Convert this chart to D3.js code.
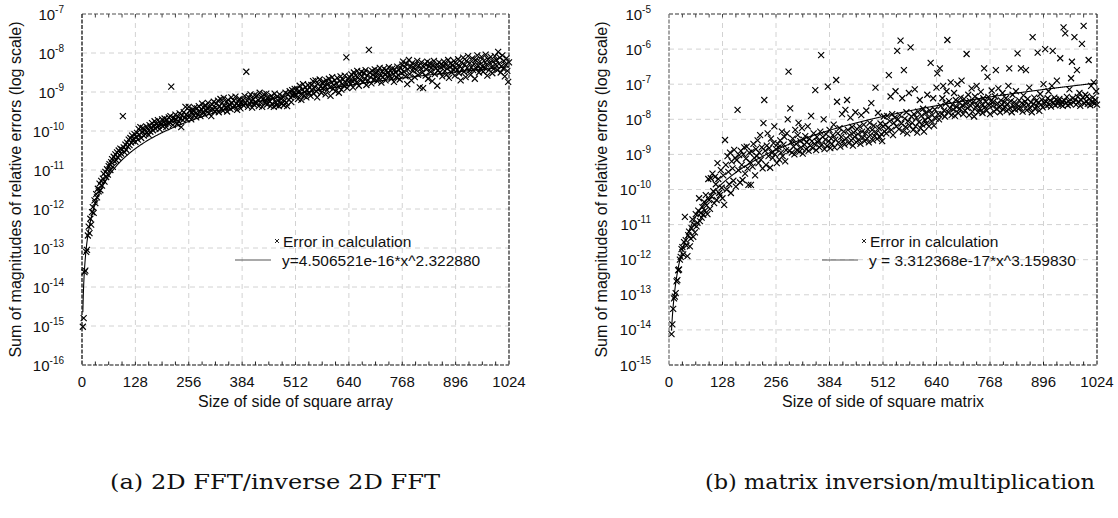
<!DOCTYPE html>
<html>
<head>
<meta charset="utf-8">
<script src="https://cdn.jsdelivr.net/npm/d3@7"></script>
<style>
  html, body { margin: 0; padding: 0; background: #fff; }
  svg { display: block; font-family: "Liberation Sans", Arial, sans-serif; }
</style>
</head>
<body>
<svg id="fig" width="1118" height="518"></svg>
<script>
// ---- data -------------------------------------------------------------
// Problem sizes run from a start value up to 1024 in steps of 2.
const sizeStep = 2;
const fftSizeStart = 2;
const matSizeStart = 6;

// Decimal exponents of the summed relative error, one per problem size.
const fftErrExp = [
  -15.02,-14.80,-13.62,-13.58,-13.10,-13.05,-12.68,-12.45,-12.62,-12.25,-12.40,-12.08,-11.95,-12.10,-11.78,-11.85,
  -11.62,-11.70,-11.48,-11.55,-11.35,-11.52,-11.28,-11.40,-11.22,-11.10,-11.30,-11.05,-11.18,-10.98,-11.12,-10.90,
  -10.85,-11.00,-10.80,-10.72,-10.92,-10.66,-10.78,-10.60,-10.75,-10.55,-10.68,-10.50,-10.62,-10.45,-10.58,-10.48,
  -9.62,-10.42,-10.55,-10.35,-10.48,-10.30,-10.40,-10.22,-10.36,-10.18,-10.30,-10.12,-10.25,-10.20,-10.08,-10.28,
  -10.15,-10.05,-10.22,-9.95,-10.10,-9.90,-10.18,-10.02,-9.92,-10.12,-9.98,-10.08,-9.88,-10.04,-9.95,-10.10,
  -9.85,-10.02,-9.92,-9.80,-9.98,-9.88,-9.75,-9.94,-9.82,-9.90,-9.72,-9.86,-9.95,-9.78,-9.84,-9.70,
  -9.88,-9.76,-9.68,-9.82,-9.90,-9.72,-9.80,-9.65,-9.78,-9.62,-8.86,-9.74,-9.85,-9.66,-9.72,-9.58,
  -9.70,-9.82,-9.64,-9.76,-9.55,-9.68,-9.90,-9.60,-9.72,-9.52,-9.66,-9.38,-9.58,-9.70,-9.62,-9.38,
  -9.48,-9.62,-9.70,-9.52,-9.45,-9.60,-9.40,-9.55,-9.65,-9.42,-9.58,-9.36,-9.50,-9.62,-9.44,-9.30,
  -9.52,-9.40,-9.58,-9.34,-9.48,-9.42,-9.28,-9.55,-9.38,-9.46,-9.62,-9.32,-9.44,-9.25,-9.50,-9.40,
  -9.30,-9.45,-9.22,-9.52,-9.36,-9.18,-9.42,-9.28,-9.48,-9.15,-9.35,-9.40,-9.26,-9.50,-9.20,-9.38,
  -9.32,-9.44,-9.14,-9.28,-9.40,-9.22,-9.36,-9.12,-9.30,-9.46,-9.24,-9.34,-9.18,-9.42,-9.26,-9.30,
  -9.20,-9.35,-9.10,-9.28,-8.48,-9.22,-9.38,-9.14,-9.30,-9.06,-9.24,-9.40,-9.18,-9.32,-9.08,-9.26,
  -9.30,-9.10,-9.20,-9.36,-9.02,-9.26,-9.14,-9.38,-9.18,-9.06,-9.28,-9.20,-9.04,-9.32,-9.14,-9.22,
  -9.24,-9.36,-9.10,-9.30,-9.16,-9.38,-9.04,-9.26,-9.34,-9.12,-9.22,-9.36,-9.06,-9.28,-9.18,-9.30,
  -9.12,-9.34,-9.22,-9.02,-9.28,-9.36,-9.06,-9.20,-8.98,-9.14,-9.26,-8.95,-9.10,-9.04,-8.92,-9.06,
  -9.08,-8.92,-9.18,-8.98,-8.84,-9.06,-9.20,-8.94,-8.80,-9.10,-9.00,-8.88,-9.14,-8.95,-8.82,-9.02,
  -8.88,-9.10,-8.82,-8.96,-8.72,-9.04,-8.86,-8.70,-8.98,-9.14,-8.80,-8.92,-8.68,-8.86,-9.02,-8.76,
  -8.90,-8.74,-8.84,-9.06,-8.70,-8.95,-8.80,-8.66,-8.88,-9.10,-8.76,-8.62,-8.92,-8.82,-8.70,-8.98,
  -8.78,-8.64,-8.86,-9.02,-8.72,-8.60,-8.94,-8.80,-8.68,-8.84,-8.58,-8.76,-8.11,-8.90,-8.66,-8.74,
  -8.62,-8.80,-8.55,-8.72,-8.88,-8.50,-8.68,-8.58,-8.76,-8.46,-8.64,-8.84,-8.54,-8.70,-8.48,-8.60,
  -8.74,-8.52,-8.66,-8.44,-8.82,-8.58,-8.70,-7.92,-8.50,-8.62,-8.78,-8.46,-8.56,-8.68,-8.42,-8.60,
  -8.52,-8.72,-8.45,-8.64,-8.38,-8.58,-8.76,-8.48,-8.62,-8.40,-8.55,-8.70,-8.44,-8.60,-8.50,-8.36,
  -8.58,-8.46,-8.66,-8.40,-8.54,-8.74,-8.42,-8.50,-8.62,-8.35,-8.56,-8.44,-8.68,-8.38,-8.52,-8.30,
  -8.22,-8.48,-8.36,-8.60,-8.28,-8.80,-8.42,-8.18,-8.54,-8.34,-8.70,-8.26,-8.46,-8.38,-8.62,-8.30,
  -8.44,-8.20,-8.56,-8.32,-8.88,-8.40,-8.24,-8.50,-8.90,-8.36,-8.28,-8.58,-8.42,-8.22,-8.66,-8.34,
  -8.26,-8.48,-8.38,-8.72,-8.30,-8.20,-8.54,-8.40,-8.32,-8.84,-8.44,-8.24,-8.50,-8.36,-8.28,-8.60,
  -8.34,-8.22,-8.46,-8.30,-8.56,-8.40,-8.18,-8.64,-8.36,-8.26,-8.50,-8.32,-8.42,-8.20,-8.58,-8.38,
  -8.28,-8.44,-8.16,-8.52,-8.34,-8.70,-8.24,-8.40,-8.12,-8.48,-8.30,-8.62,-8.20,-8.38,-8.08,-8.46,
  -8.26,-8.56,-8.36,-8.14,-8.44,-8.28,-8.66,-8.18,-8.40,-8.06,-8.32,-8.50,-8.22,-8.42,-8.10,-8.34,
  -8.48,-8.20,-8.38,-8.04,-8.30,-8.58,-8.16,-8.44,-8.26,-8.10,-8.36,-8.52,-8.22,-8.40,-8.08,-8.30,
  -8.18,-8.44,-7.97,-8.28,-8.12,-8.50,-8.34,-8.06,-8.40,-8.20,-8.60,-8.30,-8.14,-8.46,-8.74,-8.24
];

const matErrExp = [
  -14.12,-13.84,-13.40,-13.10,-13.05,-12.95,-12.62,-12.58,-12.30,-12.28,-12.00,-11.92,-11.70,-11.64,-11.85,-11.50,
  -10.78,-11.44,-11.60,-11.90,-11.30,-11.20,-11.62,-11.40,-11.10,-10.85,-11.35,-11.00,-11.22,-10.70,-11.05,-10.95,
  -10.60,-10.25,-10.90,-10.67,-10.80,-10.50,-10.72,-10.35,-10.60,-10.16,-10.45,-10.70,-9.70,-10.30,-10.55,-9.68,
  -10.20,-9.55,-10.05,-10.39,-9.64,-9.85,-10.30,-9.25,-9.70,-10.10,-10.16,-9.45,-9.95,-10.25,-9.60,-10.44,
  -8.59,-9.30,-10.00,-9.05,-9.50,-9.85,-8.95,-10.10,-9.20,-9.40,-9.75,-8.87,-9.10,-9.92,-9.16,-7.73,
  -9.45,-9.02,-9.80,-8.90,-9.30,-9.73,-9.00,-8.80,-9.55,-9.12,-8.78,-9.40,-9.87,-8.95,-9.22,-9.87,
  -8.92,-9.35,-8.70,-9.10,-9.60,-8.85,-9.05,-8.60,-9.25,-8.95,-8.45,-9.15,-8.80,-9.40,-8.11,-7.45,
  -8.90,-9.30,-8.75,-8.40,-9.05,-8.82,-9.38,-8.55,-8.95,-9.10,-8.68,-8.20,-9.00,-8.85,-9.25,-8.70,
  -8.80,-9.15,-8.60,-8.95,-8.35,-9.05,-8.72,-8.50,-9.20,-8.88,-8.40,-8.00,-6.64,-8.90,-7.69,-8.65,
  -8.95,-8.55,-8.78,-9.00,-8.30,-8.70,-8.88,-8.45,-8.10,-8.92,-8.62,-8.80,-8.25,-8.98,-8.58,-8.72,
  -8.48,-8.85,-8.65,-8.20,-8.90,-8.55,-8.75,-7.90,-8.62,-8.82,-8.40,-8.70,-7.17,-8.88,-8.50,-8.66,
  -8.60,-8.80,-8.35,-6.17,-8.72,-8.50,-8.00,-8.85,-8.58,-8.42,-8.76,-7.07,-8.62,-8.30,-8.82,-8.55,
  -8.70,-8.45,-8.15,-8.80,-8.58,-6.88,-7.50,-8.40,-8.66,-8.25,-8.78,-8.50,-7.85,-8.62,-8.35,-8.72,
  -7.73,-8.55,-7.45,-8.30,-8.68,-8.45,-7.95,-8.60,-8.22,-8.75,-8.38,-8.50,-7.80,-8.65,-8.28,-8.42,
  -8.58,-8.20,-8.70,-7.88,-8.35,-8.52,-8.15,-8.62,-8.40,-7.75,-8.55,-8.28,-8.66,-8.10,-8.45,-7.54,
  -8.30,-8.60,-8.18,-8.48,-7.10,-8.38,-8.56,-7.82,-8.25,-8.50,-8.12,-8.42,-8.62,-8.20,-7.92,-8.35,
  -8.15,-8.40,-7.90,-8.25,-6.74,-8.05,-7.35,-8.30,-7.85,-8.45,-8.10,-7.95,-7.20,-8.20,-6.05,-8.00,
  -8.28,-7.88,-5.76,-8.12,-7.40,-8.35,-6.60,-7.98,-8.22,-7.80,-8.40,-8.05,-7.25,-8.18,-5.95,-7.92,
  -8.10,-8.30,-7.85,-7.15,-8.20,-7.96,-8.38,-7.78,-8.08,-7.45,-8.25,-7.90,-8.15,-7.70,-8.35,-8.02,
  -7.82,-8.12,-7.30,-7.95,-8.20,-7.75,-6.39,-8.05,-7.88,-7.40,-8.18,-7.72,-7.98,-7.10,-6.69,-7.85,
  -8.00,-6.55,-7.62,-7.85,-7.40,-7.05,-7.75,-7.92,-7.55,-7.20,-5.74,-7.80,-7.48,-7.68,-6.95,-7.88,
  -7.58,-7.72,-7.25,-7.90,-7.45,-7.65,-7.00,-7.82,-7.52,-7.70,-7.38,-6.90,-7.60,-7.85,-7.42,-7.75,
  -7.55,-6.14,-7.68,-7.30,-7.88,-7.48,-7.62,-7.12,-7.78,-7.50,-7.92,-7.35,-7.66,-7.05,-7.58,-7.80,
  -7.45,-7.70,-7.22,-7.58,-7.82,-7.40,-6.55,-7.65,-7.50,-7.75,-6.79,-7.36,-7.60,-7.85,-7.48,-7.18,
  -7.62,-7.50,-7.78,-7.35,-6.60,-7.70,-7.55,-7.12,-7.66,-7.80,-7.46,-7.58,-7.25,-7.72,-7.52,-7.64,
  -7.40,-7.76,-7.56,-7.05,-6.55,-7.68,-7.48,-7.80,-7.30,-7.62,-7.52,-7.72,-7.20,-7.58,-6.12,-7.70,
  -7.46,-7.66,-6.55,-7.54,-7.78,-7.32,-7.60,-7.50,-6.60,-7.74,-7.42,-7.58,-7.10,-7.68,-7.52,-7.80,
  -5.66,-7.56,-7.38,-7.70,-7.48,-7.62,-6.10,-7.52,-7.76,-7.28,-7.58,-7.44,-7.66,-7.00,-7.54,-6.00,
  -7.50,-7.62,-7.40,-7.20,-7.58,-7.46,-7.64,-7.05,-6.05,-7.52,-7.38,-7.60,-7.44,-6.90,-7.56,-7.48,
  -7.42,-6.26,-7.58,-7.50,-7.62,-5.38,-7.46,-5.55,-7.54,-7.36,-7.60,-7.48,-7.15,-7.56,-6.83,-6.36,
  -7.40,-7.52,-5.66,-7.44,-7.58,-6.60,-7.36,-7.50,-7.25,-7.62,-7.45,-5.85,-7.38,-5.34,-7.55,-7.30,
  -7.48,-7.35,-7.56,-6.31,-7.42,-7.60,-7.05,-7.50,-7.38,-6.95,-7.55,-7.45,-7.20,-7.58
];

// Power-law fits y = a * x^b
const fitCoef  = [4.506521e-16, 3.312368e-17];
const fitPower = [2.322880, 3.159830];
const fitLabels = ["y=4.506521e-16*x^2.322880", "y = 3.312368e-17*x^3.159830"];

// Axis ticks
const xTicks = [0, 128, 256, 384, 512, 640, 768, 896, 1024];
const fftDecades = [-16, -15, -14, -13, -12, -11, -10, -9, -8, -7];
const matDecades = [-15, -14, -13, -12, -11, -10, -9, -8, -7, -6, -5];

const xTitles = ["Size of side of square array", "Size of side of square matrix"];
const yTitle = "Sum of magnitudes of relative errors (log scale)";
const markerLabel = "Error in calculation";
const captions = ["(a) 2D FFT/inverse 2D FFT", "(b) matrix inversion/multiplication"];

// ---- drawing ----------------------------------------------------------
const svg = d3.select("#fig");

function crossPath(s) {
  return `M${-s},${-s}L${s},${s}M${-s},${s}L${s},${-s}`;
}

function drawPanel(cfg) {
  const g = svg.append("g");
  const x = d3.scaleLinear().domain([0, 1024]).range([cfg.left, cfg.right]);
  const decades = cfg.decades;
  const y = d3.scaleLog()
    .domain([Math.pow(10, decades[0]), Math.pow(10, decades[decades.length - 1])])
    .range([cfg.bottom, cfg.top]);

  // dashed grid
  g.append("g").selectAll("line")
    .data(xTicks.slice(1, -1)).join("line")
    .attr("x1", d => x(d)).attr("x2", d => x(d))
    .attr("y1", cfg.top).attr("y2", cfg.bottom)
    .attr("stroke", "#d2d2d2").attr("stroke-width", 1)
    .attr("stroke-dasharray", "5,4");
  g.append("g").selectAll("line")
    .data(decades.slice(1, -1)).join("line")
    .attr("x1", cfg.left).attr("x2", cfg.right)
    .attr("y1", d => y(Math.pow(10, d))).attr("y2", d => y(Math.pow(10, d)))
    .attr("stroke", "#d2d2d2").attr("stroke-width", 1)
    .attr("stroke-dasharray", "5,4");

  // fitted power law
  const fitX = d3.range(cfg.start, 1024.001, 1);
  const line = d3.line()
    .x(d => x(d))
    .y(d => y(cfg.coef * Math.pow(d, cfg.power)));
  g.append("path").datum(fitX)
    .attr("d", line)
    .attr("fill", "none").attr("stroke", "#000").attr("stroke-width", 1.1);

  // measured errors
  const pts = cfg.exps.map((e, i) => ({ n: cfg.start + i * sizeStep, v: Math.pow(10, e) }));
  g.append("g").selectAll("path")
    .data(pts).join("path")
    .attr("transform", d => `translate(${x(d.n)},${y(d.v)})`)
    .attr("d", crossPath(3))
    .attr("fill", "none").attr("stroke", "#000").attr("stroke-width", 1.15);

  // frame
  const frame = g.append("g").attr("fill", "none");
  frame.append("line").attr("x1", cfg.left).attr("x2", cfg.right).attr("y1", cfg.top).attr("y2", cfg.top)
    .attr("stroke", cfg.topColor).attr("stroke-width", 1.3).attr("stroke-dasharray", "4,2");
  frame.append("line").attr("x1", cfg.left).attr("x2", cfg.left).attr("y1", cfg.top).attr("y2", cfg.bottom)
    .attr("stroke", cfg.leftColor).attr("stroke-width", 1.3).attr("stroke-dasharray", "4,1.5");
  frame.append("line").attr("x1", cfg.right).attr("x2", cfg.right).attr("y1", cfg.top).attr("y2", cfg.bottom)
    .attr("stroke", "#222").attr("stroke-width", 1.2).attr("stroke-dasharray", "4,1.5");
  frame.append("line").attr("x1", cfg.left).attr("x2", cfg.right).attr("y1", cfg.bottom).attr("y2", cfg.bottom)
    .attr("stroke", "#111").attr("stroke-width", 1.2).attr("stroke-dasharray", "4,1.5");

  // minor ticks every 32 along top and bottom, pointing inward
  const minor = d3.range(32, 1024, 32);
  g.append("g").selectAll("line")
    .data(minor).join("line")
    .attr("x1", d => x(d)).attr("x2", d => x(d))
    .attr("y1", cfg.bottom).attr("y2", cfg.bottom - 3.5)
    .attr("stroke", "#222").attr("stroke-width", 1);
  g.append("g").selectAll("line")
    .data(minor).join("line")
    .attr("x1", d => x(d)).attr("x2", d => x(d))
    .attr("y1", cfg.top).attr("y2", cfg.top + 3.5)
    .attr("stroke", "#444").attr("stroke-width", 1);

  // x tick labels
  g.append("g").selectAll("text")
    .data(xTicks).join("text")
    .attr("x", d => x(d)).attr("y", cfg.bottom + 22)
    .attr("text-anchor", "middle")
    .attr("font-size", 15).attr("fill", "#111")
    .text(d => d);

  // y tick labels: 10 with a raised exponent
  const yl = g.append("g").selectAll("text")
    .data(decades).join("text")
    .attr("x", cfg.left - 18).attr("y", d => y(Math.pow(10, d)) + 5.5)
    .attr("text-anchor", "end")
    .attr("font-size", 15).attr("fill", "#111");
  yl.append("tspan").text("10");
  yl.append("tspan").attr("font-size", 10).attr("dy", -7).text(d => String(d));

  // axis titles
  g.append("text")
    .attr("x", (cfg.left + cfg.right) / 2).attr("y", cfg.bottom + 42)
    .attr("text-anchor", "middle").attr("font-size", 16).attr("fill", "#111")
    .text(cfg.xTitle);
  g.append("text")
    .attr("transform", `translate(${cfg.yTitleX},${(cfg.top + cfg.bottom) / 2}) rotate(-90)`)
    .attr("text-anchor", "middle").attr("font-size", 16).attr("fill", "#111")
    .text(yTitle);

  // legend
  const lx = cfg.left + 153;
  g.append("path")
    .attr("transform", `translate(${lx + 42},${241})`)
    .attr("d", crossPath(2))
    .attr("fill", "none").attr("stroke", "#222").attr("stroke-width", 1);
  g.append("text")
    .attr("x", lx + 48).attr("y", 246.5)
    .attr("font-size", 15.5).attr("fill", "#111")
    .text(markerLabel);
  g.append("line")
    .attr("x1", lx).attr("x2", lx + 36).attr("y1", 260).attr("y2", 260)
    .attr("stroke", "#555").attr("stroke-width", 1.2);
  g.append("text")
    .attr("x", lx + 47).attr("y", 265.5)
    .attr("font-size", 15.5).attr("fill", "#111")
    .text(cfg.fitLabel);

  // caption
  g.append("text")
    .attr("x", cfg.captionX).attr("y", 489)
    .attr("text-anchor", "middle")
    .attr("font-family", "'DejaVu Serif', 'Liberation Serif', serif")
    .attr("font-size", 21).attr("fill", "#111")
    .attr("textLength", cfg.captionWidth)
    .attr("lengthAdjust", "spacingAndGlyphs")
    .text(cfg.caption);
}

drawPanel({
  left: 82, right: 509, top: 14, bottom: 365,
  decades: fftDecades, exps: fftErrExp, start: fftSizeStart,
  coef: fitCoef[0], power: fitPower[0], fitLabel: fitLabels[0],
  xTitle: xTitles[0], yTitleX: 21, caption: captions[0], captionX: 275, captionWidth: 330,
  topColor: "#8a8a8a", leftColor: "#111"
});
drawPanel({
  left: 669, right: 1097, top: 14, bottom: 365,
  decades: matDecades, exps: matErrExp, start: matSizeStart,
  coef: fitCoef[1], power: fitPower[1], fitLabel: fitLabels[1],
  xTitle: xTitles[1], yTitleX: 607, caption: captions[1], captionX: 900, captionWidth: 390,
  topColor: "#777", leftColor: "#777"
});
</script>
</body>
</html>
